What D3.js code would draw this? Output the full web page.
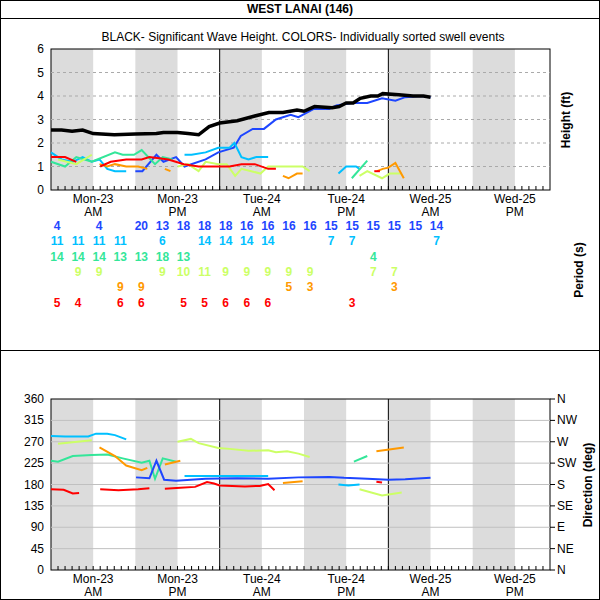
<!DOCTYPE html>
<html lang="en">
<head>
<title>West Lanai swell</title>
<script src="https://d3js.org/d3.v7.min.js"></script>
<style>
  body { margin: 0; font-family: Arial, "Liberation Sans", sans-serif; }
  svg text { font: 12px Arial, "Liberation Sans", sans-serif; fill: black; }
</style>
</head>
<body>
<div id="chart"></div>
<script>
var width = 600, height = 600;
var svg = d3.select("#chart").append("svg").attr("width", width).attr("height", height);

// colors for the sorted swell events
var col = { blue: "#1e46ff", cyan: "#00c0ff", green: "#33e699", yg: "#ccff66", orange: "#ff9900", red: "#ff0000" };

// hours from Mon-23 00:00
var x = d3.scaleLinear().domain([0, 71]).range([51, 550]);
var yH = d3.scaleLinear().domain([0, 6]).range([190, 49]);
var yD = d3.scaleLinear().domain([0, 360]).range([570, 399]);

// significant wave height (ft)
var hs = [[0,2.55],[1.5,2.55],[3,2.5],[4.5,2.55],[6,2.4],[9,2.35],[12,2.38],[15,2.4],[16,2.45],[18,2.45],[19.5,2.4],[21,2.35],[22.5,2.7],[24,2.85],[26.5,2.95],[29,3.15],[31,3.3],[33,3.3],[35,3.4],[36,3.35],[37.5,3.55],[40,3.5],[41,3.55],[42,3.7],[43,3.7],[44,3.9],[45.5,4.0],[46.5,4.0],[47.2,4.1],[49.5,4.05],[51.5,4.0],[53,4.0],[54,3.95]];

// swell events: height segments
var heights = [
  { c: "blue", segs: [[[12,0.8],[13,0.8],[15,1.5],[16,1.2],[17.8,1.4],[19,1.0],[22,1.3],[23.8,1.6],[26,1.8],[27,2.3],[28.7,2.6],[30.3,2.6],[32,3.0],[34.1,3.2],[35.2,3.1],[37.4,3.45],[39.6,3.45],[40.6,3.6],[42.8,3.7],[45,3.7],[47.1,3.9],[49,3.8],[50.4,3.95],[52.6,4.0],[54,3.95]]] },
  { c: "cyan", segs: [[[0,1.6],[1.5,1.3],[3.1,1.2],[4.5,1.4],[5.8,1.2],[6.9,1.3],[8,0.9],[9.1,0.8],[10.7,0.8]],
                      [[19,1.5],[20,1.5],[22,1.6],[23.8,1.8],[25.4,1.8],[26.1,2.0],[27.1,1.4],[28.1,1.3],[29.2,1.4],[30.9,1.4]],
                      [[40.9,0.7],[42,1.0],[43.4,1.0],[43.9,0.9]]] },
  { c: "green", segs: [[[0,1.2],[2,1.0],[3.6,1.4],[5.8,1.2],[9.1,1.6],[10.2,1.5],[11.8,1.5],[12.9,1.7],[14.8,1.1],[15.9,1.4],[17.3,1.3]],
                       [[42.8,0.5],[45,1.25]]] },
  { c: "yg", segs: [[[1,1.3],[3.6,1.1],[5.8,1.5]],
                    [[18,1.0],[19.5,1.1],[21,0.8],[22,1.2],[23.8,1.1],[25,1.1],[26.2,0.6],[27.1,0.9],[28.5,0.8],[29.8,0.7],[30.9,1.0],[35.8,1.0],[36.8,0.8]],
                    [[43.9,0.6],[45,0.8],[47.1,0.5],[48.2,0.7],[49.9,0.7]]] },
  { c: "orange", segs: [[[6.9,1.1],[8,1.0],[9.1,1.1],[10.7,1.0],[12.4,1.0],[13.7,0.9]],
                        [[16.2,0.9],[17,0.8]],
                        [[33,0.6],[33.8,0.5],[35,0.7],[35.8,0.7]],
                        [[46.4,0.8],[47.2,0.9],[48,0.95],[49,1.15],[50.2,0.5]]] },
  { c: "red", segs: [[[0,1.4],[2,1.4],[3.6,1.2]],
                     [[7,1.0],[8.5,1.2],[10.7,1.3],[12.9,1.3],[14,1.4],[16.7,1.3],[18.9,1.1],[21,1.0],[25.4,1.0],[27.1,1.1],[29,1.1],[30.9,0.9],[32,0.9]],
                     [[46,0.8],[46.8,0.8]]] }
];

// swell events: direction segments (deg)
var dirs = [
  { c: "cyan", segs: [[[0,282],[2,281],[5.3,281],[6.4,287],[8,287],[9.1,284],[10.7,275]],
                      [[19,198],[30.9,198]],
                      [[40.9,180],[42.3,178],[43.9,180]]] },
  { c: "yg", segs: [[[1,266],[5.8,273]],
                    [[18,270],[19.9,276],[21,267],[23.8,257],[25.4,255],[28.1,251],[30.9,252],[32,248],[33.6,250],[35.2,245],[36.8,238]],
                    [[43.9,170],[47.1,157],[49.9,163]]] },
  { c: "green", segs: [[[0,230],[1,228],[3.1,240],[5.8,242],[8,243],[10.2,235],[12.9,226],[14,230],[14.8,192],[15.9,235],[17.8,228]],
                       [[43.1,228],[45,240]]] },
  { c: "orange", segs: [[[6.9,258],[9.1,240],[10.7,220],[12.9,210],[13.7,215]],
                        [[16.2,222],[18.4,230]],
                        [[33,183],[35.8,187]],
                        [[46.3,250],[50.2,258]]] },
  { c: "blue", segs: [[[12.1,195],[14,193],[15,230],[16.1,190],[17.8,188],[22,192],[26.5,193],[30.9,192],[35.2,195],[39.6,196],[41.7,194],[45,192],[48,190],[50.4,191],[54,194]]] },
  { c: "red", segs: [[[0,170],[1.8,169],[3.1,161],[4,162]],
                     [[7,170],[9.6,168],[12.4,170],[14,172]],
                     [[16.2,171],[18.4,173],[20.5,175],[22.2,185],[23.2,182],[24,178],[27.6,176],[29.7,177],[30.9,181],[31.8,168]],
                     [[46.3,186],[47.1,184]]] }
];

// period table: [column, value] per color row
var periods = [
  { c: "blue", v: [[0,4],[2,4],[4,20],[5,13],[6,18],[7,18],[8,18],[9,16],[10,16],[11,16],[12,16],[13,15],[14,15],[15,15],[16,15],[17,15],[18,14]] },
  { c: "cyan", v: [[0,11],[1,11],[2,11],[3,11],[5,6],[7,14],[8,14],[9,14],[10,14],[13,7],[14,7],[18,7]] },
  { c: "green", v: [[0,14],[1,14],[2,14],[3,13],[4,13],[5,18],[6,13],[15,4]] },
  { c: "yg", v: [[1,9],[2,9],[5,9],[6,10],[7,11],[8,9],[9,9],[10,9],[11,9],[12,9],[15,7],[16,7]] },
  { c: "orange", v: [[3,9],[4,9],[11,5],[12,3],[16,3]] },
  { c: "red", v: [[0,5],[1,4],[3,6],[4,6],[6,5],[7,5],[8,6],[9,6],[10,6],[14,3]] }
];

// frame and title
svg.append("rect").attr("x", 0.5).attr("y", 0.5).attr("width", 599).attr("height", 599)
   .style("fill", "white").style("stroke", "black");
svg.append("line").attr("x1", 0).attr("x2", 600).attr("y1", 18.5).attr("y2", 18.5).style("stroke", "black");
svg.append("line").attr("x1", 0).attr("x2", 600).attr("y1", 350.5).attr("y2", 350.5).style("stroke", "black");
svg.append("text").attr("x", 300).attr("y", 13).attr("text-anchor", "middle")
   .style("font-weight", "bold").text("WEST LANAI (146)");
svg.append("text").attr("x", 303).attr("y", 41).attr("text-anchor", "middle")
   .text("BLACK- Significant Wave Height.  COLORS- Individually sorted swell events");

function panel(top, bottom) {
  // night bands, 6 hours every 12
  d3.range(0, 71, 12).forEach(function(a) {
    var b = Math.min(a + 6, 71);
    svg.append("rect").attr("x", x(a)).attr("y", top).attr("width", x(b) - x(a))
       .attr("height", bottom - top).style("fill", "#dcdcdc");
  });
  // midnight lines
  [24, 48].forEach(function(h) {
    svg.append("line").attr("x1", x(h)).attr("x2", x(h)).attr("y1", top).attr("y2", bottom)
       .style("stroke", "black");
  });
  // small hour ticks
  d3.range(1, 71).forEach(function(h) {
    svg.append("line").attr("x1", x(h)).attr("x2", x(h)).attr("y1", bottom).attr("y2", bottom - 4)
       .style("stroke", "black");
  });
  svg.append("rect").attr("x", 51).attr("y", top).attr("width", 499).attr("height", bottom - top)
     .style("fill", "none").style("stroke", "black");
  // day labels
  var labs = [[6,"Mon-23","AM"],[18,"Mon-23","PM"],[30,"Tue-24","AM"],[42,"Tue-24","PM"],[54,"Wed-25","AM"],[66,"Wed-25","PM"]];
  labs.forEach(function(l) {
    svg.append("text").attr("x", x(l[0])).attr("y", bottom + 13).attr("text-anchor", "middle").text(l[1]);
    svg.append("text").attr("x", x(l[0])).attr("y", bottom + 26).attr("text-anchor", "middle").text(l[2]);
  });
}

var line = d3.line().x(function(d) { return x(d[0]); });

// ===== top panel =====
panel(49, 190);
svg.selectAll(".hgrid").data(d3.range(1, 6)).enter().append("line")
   .attr("x1", 51).attr("x2", 550).attr("y1", function(d) { return yH(d); }).attr("y2", function(d) { return yH(d); })
   .style("stroke", "#aaaaaa").style("stroke-dasharray", "3,3");
svg.selectAll(".hlab").data(d3.range(0, 7)).enter().append("text")
   .attr("x", 44).attr("y", function(d) { return yH(d) + 4; }).attr("text-anchor", "end").text(function(d) { return d; });

line.y(function(d) { return yH(d[1]); });
heights.forEach(function(s) {
  s.segs.forEach(function(seg) {
    svg.append("path").attr("d", line(seg)).style("fill", "none").style("stroke", col[s.c]).style("stroke-width", 2);
  });
});
svg.append("path").attr("d", line(hs)).style("fill", "none").style("stroke", "black").style("stroke-width", 3.5);

svg.append("text").attr("transform", "translate(570,120) rotate(-90)").attr("text-anchor", "middle")
   .style("font-weight", "bold").text("Height (ft)");

// period table
periods.forEach(function(r, i) {
  r.v.forEach(function(p) {
    svg.append("text").attr("x", x(0.85 + p[0] * 3)).attr("y", 230 + i * 15.3).attr("text-anchor", "middle")
       .style("font-weight", "bold").style("fill", col[r.c]).text(p[1]);
  });
});
svg.append("text").attr("transform", "translate(583,270) rotate(-90)").attr("text-anchor", "middle")
   .style("font-weight", "bold").text("Period (s)");

// ===== bottom panel =====
panel(399, 570);
svg.selectAll(".dgrid").data(d3.range(45, 360, 45)).enter().append("line")
   .attr("x1", 51).attr("x2", 550).attr("y1", function(d) { return yD(d); }).attr("y2", function(d) { return yD(d); })
   .style("stroke", "#c0c0c0");
var compass = ["N","NE","E","SE","S","SW","W","NW","N"];
d3.range(0, 361, 45).forEach(function(d, i) {
  svg.append("text").attr("x", 44).attr("y", yD(d) + 4).attr("text-anchor", "end").text(d);
  svg.append("line").attr("x1", 550).attr("x2", 555).attr("y1", yD(d)).attr("y2", yD(d)).style("stroke", "black");
  svg.append("text").attr("x", 557).attr("y", yD(d) + 4).text(compass[i]);
});
line.y(function(d) { return yD(d[1]); });
dirs.forEach(function(s) {
  s.segs.forEach(function(seg) {
    svg.append("path").attr("d", line(seg)).style("fill", "none").style("stroke", col[s.c]).style("stroke-width", 2);
  });
});
svg.append("text").attr("transform", "translate(592,485) rotate(-90)").attr("text-anchor", "middle")
   .style("font-weight", "bold").text("Direction (deg)");
</script>
</body>
</html>
